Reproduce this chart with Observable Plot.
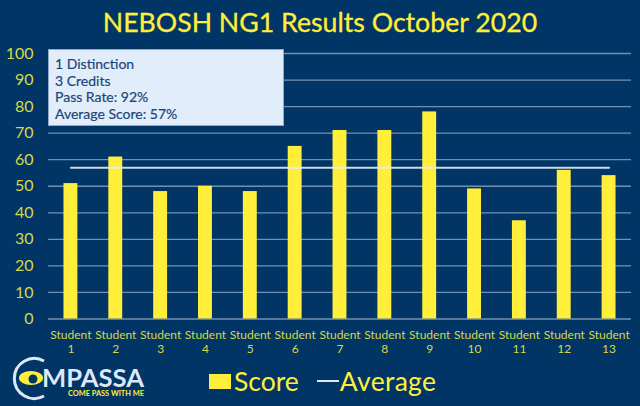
<!DOCTYPE html>
<html><head><meta charset="utf-8">
<script src="https://cdn.jsdelivr.net/npm/d3@7"></script>
<script src="https://cdn.jsdelivr.net/npm/@observablehq/plot@0.6"></script>
<style>
html,body{margin:0;padding:0;background:#003566;}
#page{position:relative;width:640px;height:406px;overflow:hidden;background:#003566;font-family:Lato,sans-serif;}
#title{position:absolute;left:0;right:0;top:3px;text-align:center;color:#ffef3a;font-size:26.7px;line-height:38px;white-space:nowrap;-webkit-text-stroke:0.3px #ffef3a;}
#chart{position:absolute;left:0;top:38px;}
#info{position:absolute;left:48px;top:49px;width:236px;height:77px;box-sizing:border-box;background:#e1edfa;border:1px solid #8fa9c6;color:#1b4577;font-size:14px;line-height:16.6px;padding:6px 0 0 6px;-webkit-text-stroke:0.2px #1b4577;}
#legend{position:absolute;left:209px;top:363px;height:36px;display:flex;align-items:center;color:#ffef3a;font-size:26.5px;line-height:36px;}
#legend .sw{display:inline-block;width:22px;height:15px;background:#ffef3a;margin-right:3px;}
#legend .ln{display:inline-block;width:22px;height:2px;background:#dfe9f5;margin:0 1px 0 18px;}
#legend .av{letter-spacing:0.3px;}
#logo{position:absolute;left:8px;top:356px;}
</style></head>
<body>
<div id="page">
<div id="title">NEBOSH NG1 Results October 2020</div>
<div id="chart"></div>
<div id="info">1 Distinction<br>3 Credits<br>Pass Rate: 92%<br>Average Score: 57%</div>
<svg id="logo" width="140" height="48" viewBox="0 0 140 48">
<path d="M36 5 A20 20 0 1 0 36 40" fill="none" stroke="#dce8f6" stroke-width="3"/>
<ellipse cx="23" cy="22" rx="12" ry="7" fill="#ffef3a"/>
<circle cx="25" cy="23" r="4.5" fill="#003566"/>
<text x="34" y="31" font-family="Lato" font-weight="700" font-size="24" fill="#dce8f6" textLength="102" lengthAdjust="spacingAndGlyphs">MPASSA</text>
<text x="60" y="40" font-family="Lato" font-weight="700" font-size="7.5" fill="#ffef3a" textLength="76" lengthAdjust="spacingAndGlyphs">COME PASS WITH ME</text>
</svg>
<div id="legend"><span class="sw"></span><span>Score</span><span class="ln"></span><span class="av">Average</span></div>
</div>
<script>
const students = ["Student 1","Student 2","Student 3","Student 4","Student 5","Student 6","Student 7","Student 8","Student 9","Student 10","Student 11","Student 12","Student 13"];
const scores = [51,61,48,50,48,65,71,71,78,49,37,56,54];
const averageScore = 57;
const yTicks = [0,10,20,30,40,50,60,70,80,90,100];
const rows = students.map((s,i)=>({student:s,score:scores[i],average:averageScore}));
const chart = Plot.plot({
  width:640,height:320,
  marginLeft:48,marginRight:9,marginTop:15,marginBottom:39.5,
  style:{background:"transparent",fontFamily:"Lato, sans-serif",overflow:"visible"},
  x:{domain:students,paddingInner:0.69,paddingOuter:0.345,round:false,label:null},
  y:{domain:[0,100],label:null},
  marks:[
    Plot.ruleY(yTicks,{stroke:"#7390b2",strokeWidth:1.3}),
    Plot.barY(rows,{x:"student",y:"score",fill:"#ffef3a"}),
    Plot.line(rows,{x:"student",y:"average",stroke:"#e4ecf4",strokeWidth:2,strokeOpacity:0.9}),
    Plot.axisX({domain:students,tickSize:0,tickPadding:10,fontSize:12,lineHeight:1.17,color:"#d6d84a",label:null,
      tickFormat:d=>d.replace(" ","\n")}),
    Plot.axisY({ticks:yTicks,tickSize:0,tickPadding:15,fontSize:16,color:"#d6d84a",label:null})
  ]
});
document.getElementById("chart").appendChild(chart);
</script>
</body></html>
